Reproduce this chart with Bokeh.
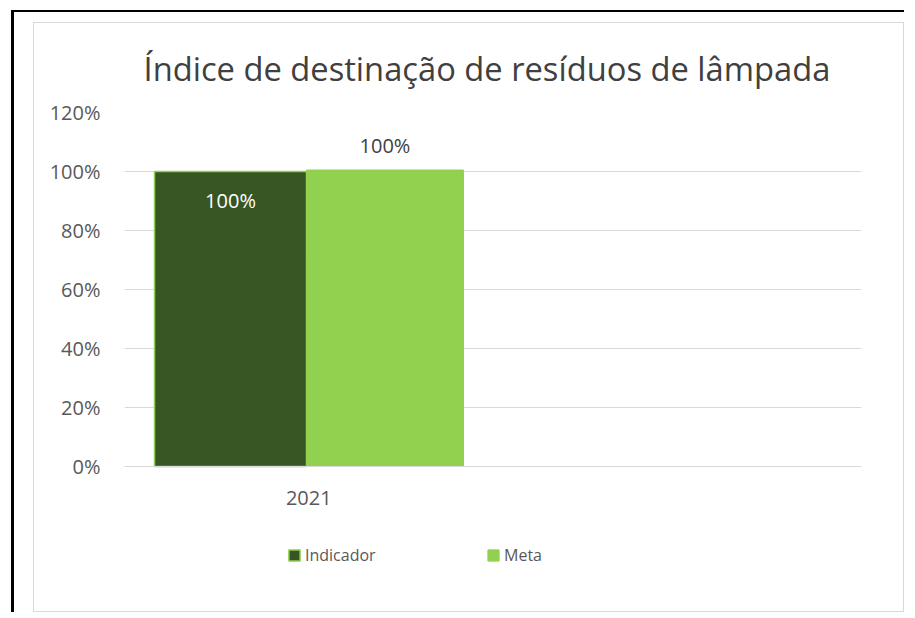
from bokeh.plotting import figure
from bokeh.models import (FactorRange, Range1d, ColumnDataSource, FixedTicker,
                          NumeralTickFormatter, LabelSet, Legend, LegendItem)
from bokeh.transform import dodge
from bokeh.embed import file_html
from bokeh.resources import INLINE
from bokeh.core.properties import value

# ---- data ----
title_text = "Índice de destinação de resíduos de lâmpada"
categories = ["2021", " "]
years = ["2021"]
indicador = [1.00]
meta = [1.005]
series_names = ["Indicador", "Meta"]
y_ticks = [0.0, 0.2, 0.4, 0.6, 0.8, 1.0, 1.2]

src = ColumnDataSource(data=dict(
    cat=years,
    ind=indicador,
    meta=meta,
    ind_lbl=["{:.0%}".format(v) for v in indicador],
    meta_lbl=["{:.0%}".format(v) for v in meta],
))

FONT = "Open Sans"
GRAY_TXT = "#595959"
GRID = "#d9d9d9"
DARK = "#375623"
LIGHT = "#92D050"

# frame: 0% at y=466, 120% at y=112 -> 295 px per unit; frame extends down to 567
p = figure(width=904, height=612, output_backend="svg", toolbar_location=None,
           x_range=FactorRange(factors=categories, range_padding=0),
           y_range=Range1d(-0.3424, 1.2),
           min_border_left=124, min_border_right=43,
           min_border_top=112, min_border_bottom=45)
# outer black frame (left/top visible) and light-gray chart-area border
p.styles = {"box-shadow": ("inset 11px 10px 0 0 white, inset 14px 12px 0 0 black, "
                           "inset 33px 22px 0 0 white, inset 34px 23px 0 0 #d9d9d9, "
                           "inset -1px -1px 0 0 #d9d9d9")}
p.outline_line_color = None
p.background_fill_color = None
p.border_fill_color = None

# title
p.title.text = title_text
p.title.text_font = FONT
p.title.text_font_size = "32.7px"
p.title.text_font_style = "normal"
p.title.text_color = "#404040"
p.title.align = "left"
p.title.offset = 19
p.title.standoff = 43

r1 = p.vbar(x=dodge("cat", -0.2123, range=p.x_range), top="ind", width=0.4125,
            source=src, fill_color=DARK, line_color=LIGHT, line_width=1.5)
r2 = p.vbar(x=dodge("cat", 0.2069, range=p.x_range), top="meta", width=0.426,
            source=src, fill_color=LIGHT, line_color=LIGHT, line_width=1)

# data labels
p.add_layout(LabelSet(x=dodge("cat", -0.2123, range=p.x_range), y="ind", text="ind_lbl",
                      source=src, y_offset=-29, text_align="center", text_baseline="middle",
                      text_font=value(FONT), text_font_size="20px", text_color="white"))
p.add_layout(LabelSet(x=dodge("cat", 0.2069, range=p.x_range), y="meta", text="meta_lbl",
                      source=src, y_offset=25, text_align="center", text_baseline="middle",
                      text_font=value(FONT), text_font_size="20px", text_color="#404040"))

# axes
p.yaxis.ticker = FixedTicker(ticks=y_ticks)
p.yaxis.formatter = NumeralTickFormatter(format="0%")
p.yaxis.axis_line_color = None
p.yaxis.major_tick_line_color = None
p.yaxis.minor_tick_line_color = None
p.yaxis.major_tick_out = 0
p.yaxis.major_tick_in = 0
p.yaxis.major_label_standoff = 24
p.yaxis.major_label_text_font = FONT
p.yaxis.major_label_text_font_size = "20px"
p.yaxis.major_label_text_color = GRAY_TXT

p.xaxis.fixed_location = 0
p.xaxis.axis_line_color = GRID
p.xaxis.axis_line_width = 1
p.xaxis.major_tick_line_color = None
p.xaxis.major_tick_out = 0
p.xaxis.major_tick_in = 0
p.xaxis.major_label_standoff = 18
p.xaxis.major_label_text_font = FONT
p.xaxis.major_label_text_font_size = "20px"
p.xaxis.major_label_text_color = GRAY_TXT

p.xgrid.grid_line_color = None
p.ygrid.grid_line_color = GRID
p.ygrid.grid_line_width = 1

# legends (one per series, placed under the axis inside the frame)
for r, name, xloc in [(r1, series_names[0], 163), (r2, series_names[1], 362)]:
    lg = Legend(items=[LegendItem(label=name, renderers=[r])], location=(xloc, 1),
                orientation="horizontal", padding=0, margin=0, spacing=0,
                border_line_alpha=0, background_fill_alpha=0,
                glyph_width=14, glyph_height=14, label_height=14, label_standoff=4,
                label_text_font=FONT, label_text_font_size="16px", label_text_color=GRAY_TXT)
    p.add_layout(lg, "center")

open("out.html", "w").write(file_html(p, INLINE))
